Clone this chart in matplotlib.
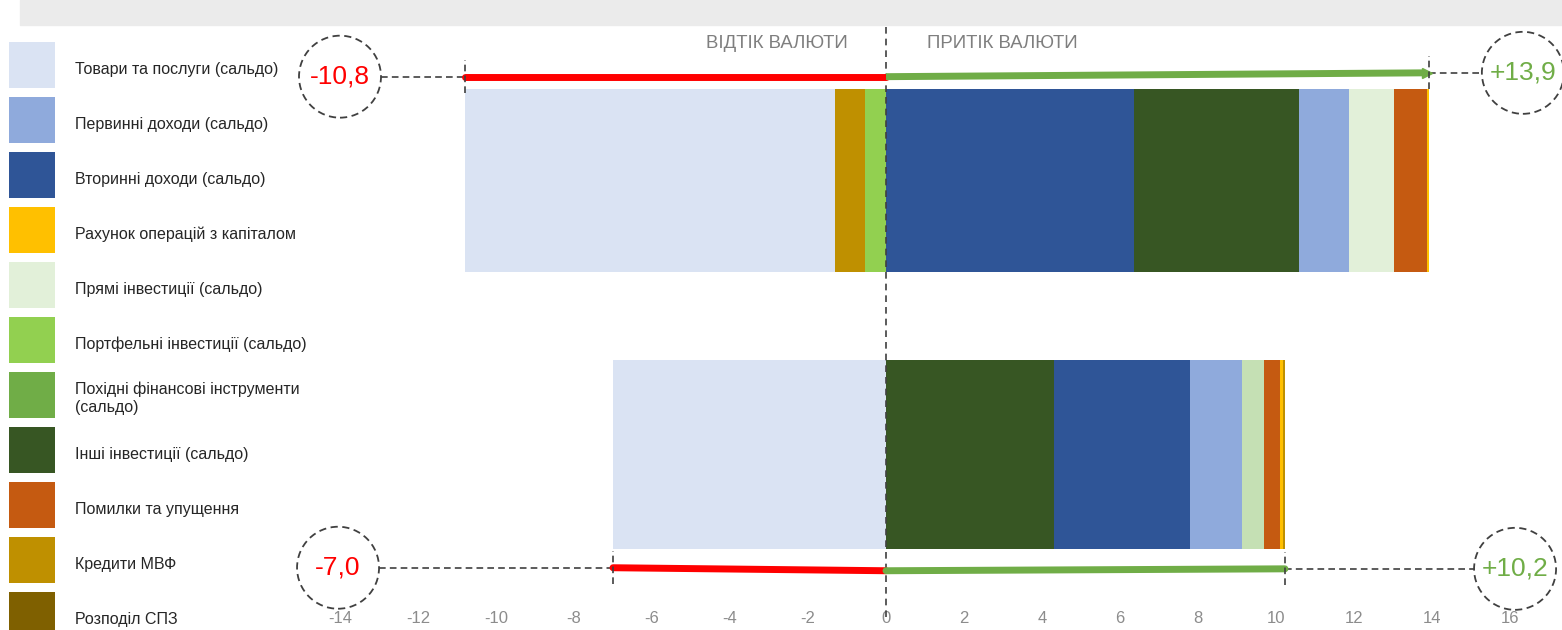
import matplotlib.pyplot as plt
import matplotlib.patches as mpatches
from matplotlib.legend_handler import HandlerPatch
from matplotlib.transforms import ScaledTranslation
import numpy as np

plt.rcParams['font.family'] = ['Liberation Sans', 'DejaVu Sans']

##### Дані #####
categories = [
    'Товари та послуги (сальдо)',
    'Первинні доходи (сальдо)',
    'Вторинні доходи (сальдо)',
    'Рахунок операцій з капіталом',
    'Прямі інвестиції (сальдо)',
    'Портфельні інвестиції (сальдо)',
    'Похідні фінансові інструменти\n(сальдо)',
    'Інші інвестиції (сальдо)',
    'Помилки та упущення',
    'Кредити МВФ',
    'Розподіл СПЗ',
]
colors = ['#DAE3F3', '#8FAADC', '#2F5597', '#FFC000', '#E2F0D9', '#92D050',
          '#70AD47', '#375623', '#C55A11', '#BF9000', '#7F6000']

# верхня смуга (індекси категорій у порядку накопичення)
top_items = [5, 9, 0, 2, 7, 1, 4, 8, 3]
top_values = [-0.54, -0.76, -9.50, 6.35, 4.25, 1.27, 1.16, 0.84, 0.05]

# нижня смуга
bottom_items = [0, 7, 2, 1, 4, 8, 3, 9]
bottom_values = [-7.00, 4.31, 3.48, 1.34, 0.56, 0.41, 0.07, 0.06]
bottom_colors = {4: '#C5E0B4'}

xticks = np.arange(-14, 17, 2)

##### Фігура #####
fig = plt.figure(figsize=(15.62, 6.30), dpi=100)
fig.patches.append(mpatches.Rectangle((20 / 1562, 1 - 25 / 630), 1, 25 / 630,
                                      transform=fig.transFigure, color='#EBEBEB', zorder=0))
ax = fig.add_axes([340 / 1562, 25 / 630, 1170 / 1562, 593 / 630])
ax.set_xlim(-14, 16)
ax.set_ylim(-0.55, 1.614)
for s in ax.spines.values():
    s.set_visible(False)
ax.set_yticks([])
ax.set_xticks(xticks)
ax.set_xticklabels([str(t) for t in xticks])
ax.tick_params(axis='x', length=0, pad=4, labelsize=12, labelcolor='#8C8C8C')


def stack(ypos, items, values, height, override):
    neg, pos = 0.0, 0.0
    for i, v in zip(items, values):
        c = override.get(i, colors[i])
        if v < 0:
            ax.barh(ypos, v, left=neg, height=height, color=c, linewidth=0)
            neg += v
        else:
            ax.barh(ypos, v, left=pos, height=height, color=c, linewidth=0)
            pos += v
    return neg, pos


top_neg, top_pos = stack(1.0, top_items, top_values, 0.668, {})
bot_neg, bot_pos = stack(0.0, bottom_items, bottom_values, 0.69, bottom_colors)

ax.axvline(0, ymin=-0.02, ymax=1 + 14 / 593, color='#404040', lw=1.2, ls=(0, (4, 3)),
           clip_on=False, zorder=5)

ax.text(-0.97, 1.50, 'ВІДТІК ВАЛЮТИ', ha='right', va='center', fontsize=13.4, color='#7F7F7F')
ax.text(1.05, 1.50, 'ПРИТІК ВАЛЮТИ', ha='left', va='center', fontsize=13.4, color='#7F7F7F')


def fmt(v):
    s = '%.1f' % abs(v)
    return ('+' if v > 0 else '-') + s.replace('.', ',')


def circle(x, y, v, col):
    tr = fig.dpi_scale_trans + ScaledTranslation(x, y, ax.transData)
    ax.add_patch(mpatches.Circle((0, 0), 0.41, transform=tr, fill=False,
                                 ec='#404040', lw=1.3, ls=(0, (4, 2.5)), clip_on=False))
    ax.text(x, y, fmt(v), ha='center', va='center', fontsize=19, color=col, clip_on=False)


def flow(neg, pos, y_left, y_mid, y_right, arrow, cl, cr, tick):
    ax.plot([neg, 0], [y_left, y_mid], color='#FF0000', lw=5, solid_capstyle='round',
            zorder=6, clip_on=False)
    if arrow:
        ax.plot([0, pos - 0.1], [y_mid, y_right], color='#70AD47', lw=5,
                solid_capstyle='butt', zorder=6)
        ax.plot([pos - 0.05], [y_right], marker='>', ms=7, color='#70AD47', zorder=6)
    else:
        ax.plot([0, pos], [y_mid, y_right], color='#70AD47', lw=5,
                solid_capstyle='round', zorder=6)
    # пунктирні виноски
    ax.plot([cl + 1.05, neg], [y_left, y_left], color='#404040', lw=1.2, ls=(0, (4, 2.5)),
            clip_on=False)
    ax.plot([pos, cr - 1.05], [y_right, y_right], color='#404040', lw=1.2, ls=(0, (4, 2.5)),
            clip_on=False)
    for xx, yy in ((neg, y_left), (pos, y_right)):
        ax.plot([xx, xx], [yy - tick[0], yy + tick[1]], color='#404040', lw=1.2,
                ls=(0, (4, 2.5)), zorder=7)
    circle(cl, y_left, neg, '#FF0000')
    circle(cr, y_right, pos, '#70AD47')


flow(top_neg, top_pos, 1.378, 1.378, 1.392, True, -14.0, 16.33, (0.06, 0.06))
flow(bot_neg, bot_pos, -0.414, -0.425, -0.418, False, -14.05, 16.13, (0.06, 0.06))

##### Легенда #####
fs = 11.5
sq = 46 * 0.72 / fs            # квадрат 46 px у долях кегля
lift = 3.6                     # квадрат трохи вище за текст (pt)


def square(legend, orig_handle, xdescent, ydescent, width, height, fontsize):
    return mpatches.Rectangle((-xdescent, -ydescent + lift), width, height)


handles = [mpatches.Patch(facecolor=c, edgecolor='none') for c in colors]
fig.legend(handles, categories, loc='upper left',
           bbox_to_anchor=(9 / 1562, 1 - (42 + lift / 0.72) / 630),
           frameon=False, fontsize=fs, handlelength=sq, handleheight=(sq - 0.245) / 0.65,
           handletextpad=20 * 0.72 / fs, labelspacing=9 * 0.72 / fs, borderpad=0,
           borderaxespad=0, labelcolor='#262626',
           handler_map={mpatches.Patch: HandlerPatch(patch_func=square)})

fig.savefig('out.png', dpi=100)
